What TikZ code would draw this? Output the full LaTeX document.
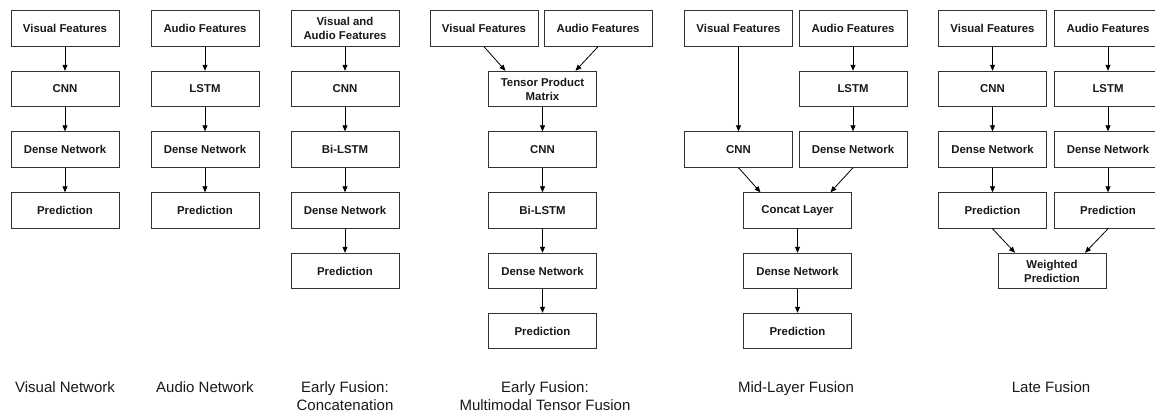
\documentclass[tikz,border=0pt]{standalone}
\usepackage{fontspec}
\setmainfont{Liberation Sans}
\usetikzlibrary{arrows.meta}
\begin{document}
\begin{tikzpicture}[x=1pt, y=-1pt,
  blk/.style={draw=black!80, line width=0.9pt, minimum width=108pt, minimum height=35.5pt,
    inner sep=0pt, align=center, text=black!90,
    font=\fontsize{11.4}{14}\selectfont\bfseries},
  lbl/.style={anchor=north, inner sep=0pt, align=center, text=black!90,
    font=\fontsize{15}{18}\selectfont},
  link/.style={-{Triangle[length=6pt,width=5pt]}, line width=0.8pt, black},
]
% page frame
\clip (0,0) rectangle (1155,412);
\fill[white] (0,0) rectangle (1155,412);

% row centres
\def\ra{28.5}\def\rb{89}\def\rc{149.5}\def\rd{210.5}\def\re{271}\def\rf{331}

% --- Visual network ---
\node[blk] (v1) at (65,\ra) {Visual Features};
\node[blk] (v2) at (65,\rb) {CNN};
\node[blk] (v3) at (65,\rc) {Dense Network};
\node[blk] (v4) at (65,\rd) {Prediction};
\draw[link] (v1) -- (v2);
\draw[link] (v2) -- (v3);
\draw[link] (v3) -- (v4);

% --- Audio network ---
\node[blk] (a1) at (205,\ra) {Audio Features};
\node[blk] (a2) at (205,\rb) {LSTM};
\node[blk] (a3) at (205,\rc) {Dense Network};
\node[blk] (a4) at (205,\rd) {Prediction};
\draw[link] (a1) -- (a2);
\draw[link] (a2) -- (a3);
\draw[link] (a3) -- (a4);

% --- Early fusion: concatenation ---
\node[blk] (c1) at (345,\ra) {Visual and\\Audio Features};
\node[blk] (c2) at (345,\rb) {CNN};
\node[blk] (c3) at (345,\rc) {Bi-LSTM};
\node[blk] (c4) at (345,\rd) {Dense Network};
\node[blk] (c5) at (345,\re) {Prediction};
\draw[link] (c1) -- (c2);
\draw[link] (c2) -- (c3);
\draw[link] (c3) -- (c4);
\draw[link] (c4) -- (c5);

% --- Early fusion: multimodal tensor fusion ---
\node[blk] (tv) at (484,\ra) {Visual Features};
\node[blk] (ta) at (598,\ra) {Audio Features};
\node[blk] (t1) at (542.5,\rb) {Tensor Product\\Matrix};
\node[blk] (t2) at (542.5,\rc) {CNN};
\node[blk] (t3) at (542.5,\rd) {Bi-LSTM};
\node[blk] (t4) at (542.5,\re) {Dense Network};
\node[blk] (t5) at (542.5,\rf) {Prediction};
\draw[link] (tv.south) -- ([xshift=-37pt]t1.north);
\draw[link] (ta.south) -- ([xshift=33pt]t1.north);
\draw[link] (t1) -- (t2);
\draw[link] (t2) -- (t3);
\draw[link] (t3) -- (t4);
\draw[link] (t4) -- (t5);

% --- Mid-layer fusion ---
\node[blk] (mv) at (738.5,\ra) {Visual Features};
\node[blk] (ma) at (853,\ra) {Audio Features};
\node[blk] (ml) at (853,\rb) {LSTM};
\node[blk] (mc) at (738.5,\rc) {CNN};
\node[blk] (md) at (853,\rc) {Dense Network};
\node[blk] (m1) at (797.5,\rd) {Concat Layer};
\node[blk] (m2) at (797.5,\re) {Dense Network};
\node[blk] (m3) at (797.5,\rf) {Prediction};
\draw[link] (mv) -- (mc);
\draw[link] (ma) -- (ml);
\draw[link] (ml) -- (md);
\draw[link] (mc.south) -- ([xshift=-37pt]m1.north);
\draw[link] (md.south) -- ([xshift=33pt]m1.north);
\draw[link] (m1) -- (m2);
\draw[link] (m2) -- (m3);

% --- Late fusion ---
\node[blk] (lv1) at (992.5,\ra) {Visual Features};
\node[blk] (lv2) at (992.5,\rb) {CNN};
\node[blk] (lv3) at (992.5,\rc) {Dense Network};
\node[blk] (lv4) at (992.5,\rd) {Prediction};
\node[blk] (la1) at (1108,\ra) {Audio Features};
\node[blk] (la2) at (1108,\rb) {LSTM};
\node[blk] (la3) at (1108,\rc) {Dense Network};
\node[blk] (la4) at (1108,\rd) {Prediction};
\node[blk] (lw) at (1052,\re) {Weighted\\Prediction};
\draw[link] (lv1) -- (lv2);
\draw[link] (lv2) -- (lv3);
\draw[link] (lv3) -- (lv4);
\draw[link] (la1) -- (la2);
\draw[link] (la2) -- (la3);
\draw[link] (la3) -- (la4);
\draw[link] (lv4.south) -- ([xshift=-37pt]lw.north);
\draw[link] (la4.south) -- ([xshift=33pt]lw.north);

% --- captions ---
\node[lbl] (capv) at (65,381.5) {Visual Network};
\node[lbl] (capa) at (205,381.5) {Audio Network};
\node[lbl] (capc) at (345,381.5) {Early Fusion:\\Concatenation};
\node[lbl] (capt) at (545,381.5) {Early Fusion:\\Multimodal Tensor Fusion};
\node[lbl] (capm) at (796,381.5) {Mid-Layer Fusion};
\node[lbl] (capl) at (1051,381.5) {Late Fusion};
\end{tikzpicture}
\end{document}
